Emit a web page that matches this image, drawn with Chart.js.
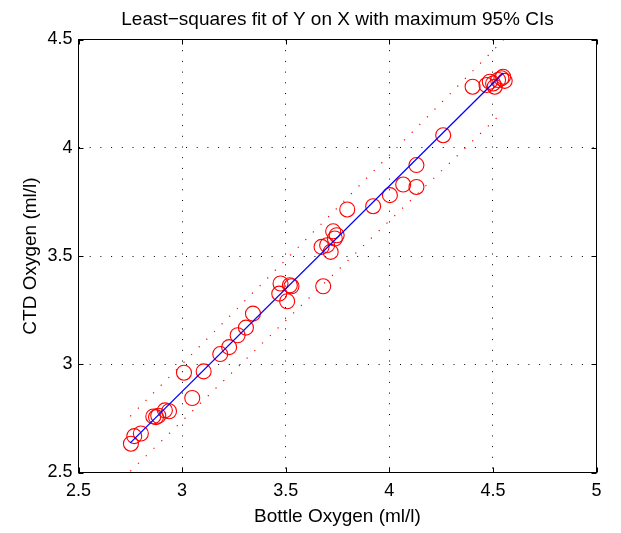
<!DOCTYPE html>
<html>
<head>
<meta charset="utf-8">
<script src="https://cdn.jsdelivr.net/npm/chart.js@4"></script>
<style>
  html, body { margin: 0; padding: 0; background: #fff; }
</style>
</head>
<body>
<canvas id="fitChart" width="621" height="533"></canvas>
<script>
/* ============ DATA ============ */
const bottleO2 = [
  2.753, 2.769, 2.801, 2.861, 2.874, 2.885, 2.917, 2.937, 3.009, 3.049,
  3.104, 3.184, 3.227, 3.268, 3.308, 3.342, 3.469, 3.475, 3.507, 3.520,
  3.528, 3.681, 3.673, 3.700, 3.717, 3.729, 3.746, 3.737, 3.797, 3.922,
  4.003, 4.067, 4.131, 4.131, 4.260, 4.402, 4.469, 4.485, 4.501, 4.509,
  4.525, 4.541, 4.549, 4.557
];
const ctdO2 = [
  2.633, 2.668, 2.680, 2.759, 2.756, 2.762, 2.787, 2.783, 2.961, 2.844,
  2.967, 3.047, 3.079, 3.134, 3.169, 3.234, 3.326, 3.373, 3.291, 3.365,
  3.360, 3.360, 3.542, 3.550, 3.519, 3.614, 3.596, 3.581, 3.715, 3.730,
  3.781, 3.830, 3.819, 3.920, 4.058, 4.282, 4.290, 4.305, 4.297, 4.282,
  4.313, 4.321, 4.328, 4.309
];
const fitX = [2.75, 4.55];
const fitY = [2.637, 4.345];
const ciX = [2.75, 3.675, 4.55];
const ciUpper = [2.760, 3.651, 4.497];
const ciLower = [2.506, 3.364, 4.167];
const xTicks = [2.5, 3, 3.5, 4, 4.5, 5];
const yTicks = [2.5, 3, 3.5, 4, 4.5];
const chartTitle = 'Least\u2212squares fit of Y on X with maximum 95% CIs';

/* ============ HELPERS ============ */
const FONT = "'Liberation Sans', Arial, Helvetica, sans-serif";
const pts = (xs, ys) => xs.map((x, i) => ({ x, y: ys[i] }));
const dotGrid = { color: '#000', lineWidth: 1, drawTicks: false };

// matlab style box with inward ticks on all four sides, title centred over the axes
const matlabBox = {
  id: 'matlabBox',
  afterDraw(chart) {
    const { ctx, chartArea: a, scales: { x, y } } = chart;
    ctx.save();
    ctx.strokeStyle = '#000';
    ctx.lineWidth = 1;
    ctx.beginPath();
    xTicks.forEach(v => {
      const px = Math.round(x.getPixelForValue(v)) + 0.5;
      ctx.moveTo(px, a.bottom); ctx.lineTo(px, a.bottom - 5);
      ctx.moveTo(px, a.top); ctx.lineTo(px, a.top + 5);
    });
    yTicks.forEach(v => {
      const py = Math.round(y.getPixelForValue(v)) + 0.5;
      ctx.moveTo(a.left, py); ctx.lineTo(a.left + 5, py);
      ctx.moveTo(a.right, py); ctx.lineTo(a.right - 5, py);
    });
    ctx.stroke();
    ctx.strokeRect(a.left, a.top, a.right - a.left, a.bottom - a.top);

    ctx.fillStyle = '#000';
    ctx.font = '19px ' + FONT;
    ctx.textAlign = 'center';
    ctx.textBaseline = 'middle';
    ctx.fillText(chartTitle, (a.left + a.right) / 2, a.top - 20);
    ctx.restore();
  }
};

/* ============ CHART ============ */
new Chart(document.getElementById('fitChart'), {
  type: 'scatter',
  data: {
    datasets: [
      {
        label: 'Fit',
        data: pts(fitX, fitY),
        showLine: true,
        borderColor: '#0000ff',
        borderWidth: 1.3,
        pointRadius: 0
      },
      {
        label: 'Upper CI',
        data: pts(ciX, ciUpper),
        showLine: true,
        borderColor: '#ff0000',
        borderWidth: 1.2,
        borderDash: [1.2, 9.6],
        pointRadius: 0
      },
      {
        label: 'Lower CI',
        data: pts(ciX, ciLower),
        showLine: true,
        borderColor: '#ff0000',
        borderWidth: 1.2,
        borderDash: [1.2, 9.6],
        pointRadius: 0
      },
      {
        label: 'Samples',
        data: pts(bottleO2, ctdO2),
        pointStyle: 'circle',
        pointRadius: 7.5,
        pointBorderWidth: 1.1,
        pointBorderColor: '#ff0000',
        pointBackgroundColor: 'rgba(0,0,0,0)'
      }
    ]
  },
  options: {
    responsive: false,
    animation: false,
    layout: { padding: { left: 0, right: 24.5, top: 39.5, bottom: 0 } },
    plugins: {
      legend: { display: false },
      tooltip: { enabled: false },
      title: { display: false }
    },
    scales: {
      x: {
        type: 'linear',
        min: xTicks[0], max: xTicks[xTicks.length - 1],
        afterBuildTicks: s => { s.ticks = xTicks.map(v => ({ value: v })); },
        afterFit: s => { s.height = 60.5; },
        grid: dotGrid,
        border: { display: false, dash: [1, 9.7] },
        ticks: { color: '#000', padding: 8, maxRotation: 0, font: { family: FONT, size: 18 }, callback: v => String(v) },
        title: { display: true, text: 'Bottle Oxygen (ml/l)', color: '#000', font: { family: FONT, size: 19 }, padding: { top: 0, bottom: 5 } }
      },
      y: {
        type: 'linear',
        min: yTicks[0], max: yTicks[yTicks.length - 1],
        afterBuildTicks: s => { s.ticks = yTicks.map(v => ({ value: v })); },
        afterFit: s => { s.width = 78.5; },
        grid: dotGrid,
        border: { display: false, dash: [1, 9.7] },
        ticks: { color: '#000', padding: 6, font: { family: FONT, size: 18 }, callback: v => String(v) },
        title: { display: true, text: 'CTD Oxygen (ml/l)', color: '#000', font: { family: FONT, size: 19 }, padding: { top: 19, bottom: 0 } }
      }
    }
  },
  plugins: [matlabBox]
});
</script>
</body>
</html>
